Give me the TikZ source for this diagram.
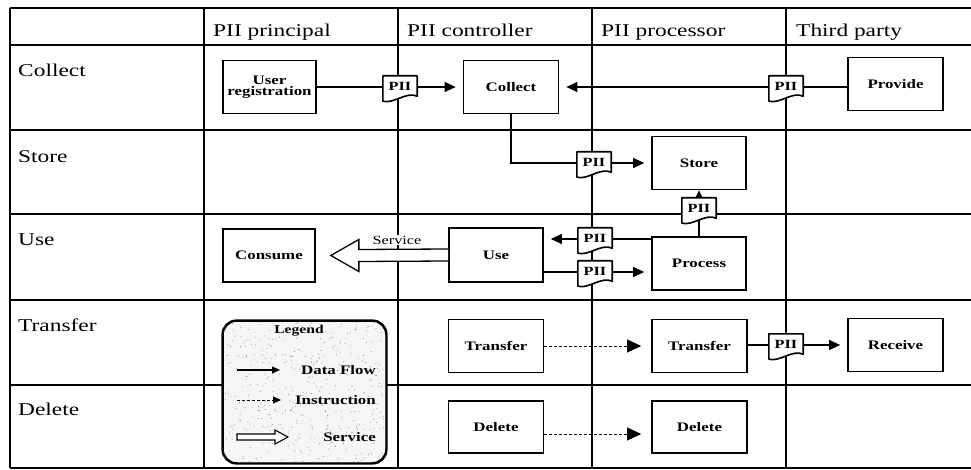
\documentclass[tikz,border=0pt]{standalone}
\usepackage{fontspec}
\setmainfont{Liberation Serif}[FakeStretch=1.3]
\usetikzlibrary{arrows.meta,calc}

\tikzset{
  gridline/.style={line width=1.3pt},
  procbox/.style={draw, line width=1.7pt, fill=white, minimum width=95pt,
    minimum height=53pt, inner sep=1pt, align=center,
    font=\bfseries\fontsize{13}{11.5}\selectfont},
  piibox/.style={inner sep=0pt, minimum width=34pt, minimum height=22pt},
  piishape/.style={draw, fill=white, line width=1.6pt, line join=round},
  piitext/.style={inner sep=0pt, font=\bfseries\fontsize{12.5}{12}\selectfont},
  flow/.style={line width=1.3pt},
  flowarrow/.style={line width=1.3pt, -{Triangle[length=11pt,width=10pt]}, shorten >=7pt},
  instr/.style={line width=0.6pt, densely dashed, -{Triangle[length=14pt,width=13pt]}, shorten >=10pt},
  svcarrow/.style={draw, fill=white, line width=1.3pt, line join=miter},
  headlabel/.style={anchor=base west, inner sep=0pt, font=\fontsize{18}{20}\selectfont},
  legtext/.style={anchor=east, inner sep=0pt, font=\bfseries\fontsize{13}{13}\selectfont},
}

% document symbol drawn round an empty placeholder node, with its label on top
\newcommand\piidoc[1]{%
  \filldraw[piishape] (#1.north west) -- (#1.north east) -- ($(#1.south east)+(0,-2)$)
    .. controls ($(#1.south)+(6,-7)$) and ($(#1.south)+(-6,6)$) .. ($(#1.south west)+(0,3)$) -- cycle;
  \node[piitext] (#1-t) at ($(#1)+(0,-1)$) {PII};
}

\begin{document}
\begin{tikzpicture}[x=1pt, y=-1pt]
\useasboundingbox (0,0) rectangle (971,470);

% ---- swimlane grid ----
\foreach \yy in {8,45,130,214,300,385,468}
  \draw[gridline] (10,\yy) -- (971,\yy);
\foreach \xx in {10,204,398,592,786}
  \draw[gridline] (\xx,8) -- (\xx,468);

% column headings
\node[headlabel] (h1) at (213,37) {PII principal};
\node[headlabel] (h2) at (407,37) {PII controller};
\node[headlabel] (h3) at (601,37) {PII processor};
\node[headlabel] (h4) at (796,37) {Third party};

% row headings
\node[headlabel] (r1) at (18,77) {Collect};
\node[headlabel] (r2) at (18,163) {Store};
\node[headlabel] (r3) at (18,246) {Use};
\node[headlabel] (r4) at (18,331) {Transfer};
\node[headlabel] (r5) at (18,415) {Delete};

% ---- activities ----
\node[procbox, minimum width=93pt] (userreg) at (269.5,87) {User\\registration};
\node[procbox] (collect)  at (511,87)    {Collect};
\node[procbox] (provide)  at (895.5,84)  {Provide};
\node[procbox, minimum width=94pt] (store)   at (699,163) {Store};
\node[procbox, minimum width=94pt] (process) at (699,263.5) {Process};
\node[procbox, minimum width=94pt, minimum height=54pt] (use) at (496,255) {Use};
\node[procbox, minimum width=92pt] (consume) at (269,255.5) {Consume};
\node[procbox] (transfer1) at (496,346)   {Transfer};
\node[procbox] (transfer2) at (699.5,346) {Transfer};
\node[procbox] (receive)   at (895.5,345) {Receive};
\node[procbox, minimum height=52pt] (delete1) at (496,427)   {Delete};
\node[procbox, minimum height=52pt] (delete2) at (699.5,427) {Delete};

% ---- PII documents (placeholders) ----
\node[piibox] (pii1) at (400,87) {};
\node[piibox] (pii2) at (786,87) {};
\node[piibox] (pii3) at (594,163) {};
\node[piibox] (pii4) at (699,209) {};
\node[piibox] (pii5) at (595,239) {};
\node[piibox] (pii6) at (595,272) {};
\node[piibox] (pii7) at (786,345) {};

% ---- data flows ----
\draw[flow] (userreg.east) -- (pii1.west);
\draw[flowarrow] (pii1.east) -- (pii1.east -| collect.west);

\draw[flow] (pii2.east) -- (pii2.east -| provide.west);
\draw[flowarrow] (pii2.west) -- (pii2.west -| collect.east);

\draw[flow] (collect.south) |- (pii3.west);
\draw[flowarrow] (pii3.east) -- (pii3.east -| store.west);

\draw[flow] (process.north) -- (pii4.south);
\draw[flowarrow, shorten >=0pt] (pii4.north) -- (pii4.north |- store.south);

\draw[flow] (pii5.east) -- (pii5.east -| process.west);
\draw[flowarrow] (pii5.west) -- (pii5.west -| use.east);

\draw[flow] (pii6.west -| use.east) -- (pii6.west);
\draw[flowarrow] (pii6.east) -- (pii6.east -| process.west);

\draw[flow] (pii7.west -| transfer2.east) -- (pii7.west);
\draw[flowarrow] (pii7.east) -- (pii7.east -| receive.west);

% ---- instructions ----
\draw[instr] (transfer1.east) -- (transfer2.west);
\draw[instr] ($(delete1.east)+(0,7)$) -- ($(delete2.west)+(0,7)$);

% ---- PII documents ----
\piidoc{pii1}
\piidoc{pii2}
\piidoc{pii3}
\piidoc{pii4}
\piidoc{pii5}
\piidoc{pii6}
\piidoc{pii7}

% ---- service (hollow arrow) ----
\coordinate (svctip) at ($(consume.east)+(15,0)$);
\filldraw[svcarrow] ($(use.west)+(0,-6)$) -- ($(svctip)+(28,-6)$) -- ($(svctip)+(28,-16)$)
  -- (svctip) -- ($(svctip)+(28,16)$) -- ($(svctip)+(28,6)$) -- ($(use.west)+(0,6)$);
\node[fill=white, inner sep=1pt, font=\fontsize{12.5}{12}\selectfont] (svclabel) at (397,240) {Service};

% ---- legend ----
\node[draw, line width=1.5pt, rounded corners=14pt, fill=gray!7,
      minimum width=163pt, minimum height=142pt] (legend) at (304.5,392) {};
\begin{scope}
  \clip[rounded corners=14pt] ($(legend.north west)+(1,1)$) rectangle ($(legend.south east)+(-1,-1)$);
  \pgfmathsetseed{11}
  \foreach \k in {1,...,420}
    \fill[black!55] ($(legend.center)+(80*rand,70*rand)$) circle (0.45pt);
\end{scope}
\draw[line width=1.6pt, rounded corners=14pt] (legend.north west) rectangle (legend.south east);

\node[inner sep=0pt, font=\bfseries\fontsize{12}{12}\selectfont] (legtitle) at (299,331) {Legend};

\coordinate (dfA) at (237,370);
\coordinate (dfB) at (280,370);
\draw[line width=1.2pt, -{Triangle[length=8pt,width=7pt]}] (dfA) -- (dfB);
\node[legtext] (legdf) at (376,370) {Data Flow};

\coordinate (inA) at (237,400);
\coordinate (inB) at (281,400);
\draw[line width=0.8pt, densely dashed, -{Triangle[length=8pt,width=7pt]}] (inA) -- (inB);
\node[legtext] (legin) at (376,400) {Instruction};

\coordinate (svA) at (237,437);
\coordinate (svB) at (288,437);
\filldraw[draw, fill=white, line width=1.1pt] ($(svA)+(0,-3)$) -- ($(svB)+(-13,-3)$) -- ($(svB)+(-13,-7)$)
  -- (svB) -- ($(svB)+(-13,7)$) -- ($(svB)+(-13,3)$) -- ($(svA)+(0,3)$) -- cycle;
\node[legtext] (legsv) at (376,437) {Service};
\end{tikzpicture}
\end{document}
